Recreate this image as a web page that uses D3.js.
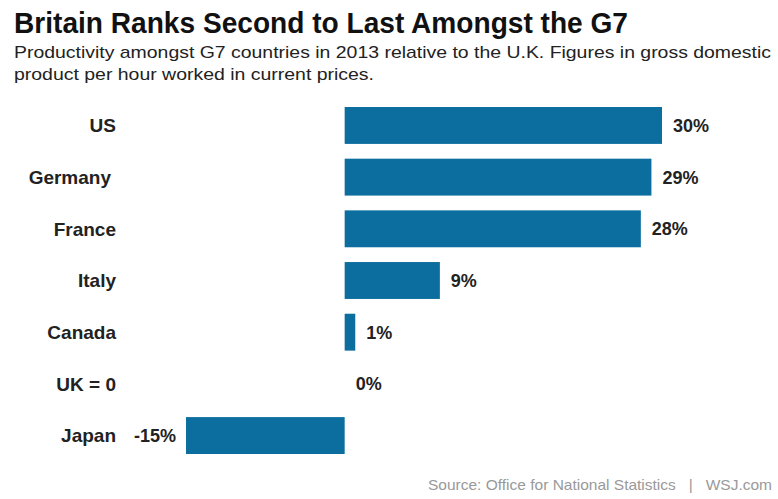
<!DOCTYPE html>
<html>
<head>
<meta charset="utf-8">
<script src="https://cdn.jsdelivr.net/npm/d3@7"></script>
<style>
  body { margin: 0; background: #fff; }
  svg text { font-family: "Liberation Sans", Arial, sans-serif; }
</style>
</head>
<body>
<svg width="778" height="499"></svg>
<script>
const countries = ["US", "Germany", "France", "Italy", "Canada", "UK = 0", "Japan"];
const values = [30, 29, 28, 9, 1, 0, -15];

const svg = d3.select("svg"),
    width = +svg.attr("width"),
    height = +svg.attr("height");

svg.append("rect").attr("width", width).attr("height", height).attr("fill", "#fff");

// headline + subhead
svg.append("text")
    .attr("x", 14).attr("y", 33)
    .attr("font-size", 29).attr("font-weight", "bold").attr("fill", "#111")
    .attr("textLength", 614).attr("lengthAdjust", "spacingAndGlyphs")
    .text("Britain Ranks Second to Last Amongst the G7");

const sub = ["Productivity amongst G7 countries in 2013 relative to the U.K. Figures in gross domestic",
    "product per hour worked in current prices."];
const subLen = [757, 360];
svg.selectAll(".sub").data(sub).enter().append("text")
    .attr("class", "sub")
    .attr("x", 14).attr("y", (d, i) => 58 + i * 22)
    .attr("font-size", 17).attr("fill", "#222")
    .attr("textLength", (d, i) => subLen[i]).attr("lengthAdjust", "spacingAndGlyphs")
    .text(d => d);

const x = d3.scaleLinear().domain([-15, 30]).range([186, 662]);
const y = d3.scaleBand().domain(countries).range([107, 454]).paddingInner(0.286).paddingOuter(0);

const rows = countries.map((c, i) => ({name: c, value: values[i]}));

svg.append("g").selectAll("rect").data(rows).enter().append("rect")
    .attr("x", d => x(Math.min(0, d.value)))
    .attr("y", d => y(d.name))
    .attr("width", d => Math.abs(x(d.value) - x(0)))
    .attr("height", y.bandwidth())
    .attr("fill", "#0c6e9e");

// country labels
svg.append("g").selectAll("text").data(rows).enter().append("text")
    .attr("x", d => d.name === "Germany" ? 111 : 116)
    .attr("y", d => y(d.name) + y.bandwidth() / 2)
    .attr("dy", "0.36em")
    .attr("text-anchor", "end")
    .attr("font-size", 19).attr("font-weight", "bold").attr("fill", "#222")
    .text(d => d.name);

// value labels
svg.append("g").selectAll("text").data(rows).enter().append("text")
    .attr("x", d => d.value < 0 ? x(d.value) - 10 : x(d.value) + 11)
    .attr("y", d => y(d.name) + y.bandwidth() / 2)
    .attr("dy", "0.36em")
    .attr("text-anchor", d => d.value < 0 ? "end" : "start")
    .attr("font-size", 18).attr("font-weight", d => d.value < 0 ? 600 : "bold").attr("fill", "#222")
    .text(d => d.value + "%");

svg.append("text")
    .attr("x", 428).attr("y", 490)
    .attr("font-size", 15).attr("fill", "#999")
    .style("white-space", "pre")
    .attr("textLength", 344).attr("lengthAdjust", "spacingAndGlyphs")
    .text("Source: Office for National Statistics   |   WSJ.com");
</script>
</body>
</html>
